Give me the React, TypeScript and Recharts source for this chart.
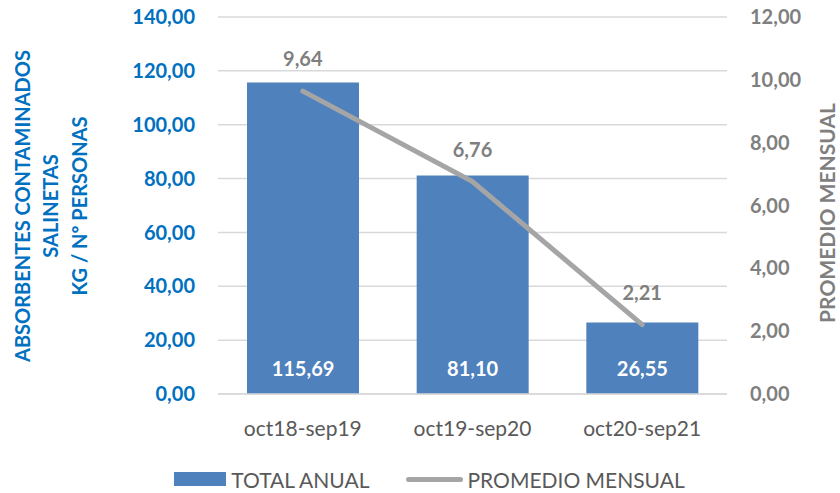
import { ComposedChart, Bar, Line, XAxis, YAxis, CartesianGrid, Legend, LabelList } from "recharts";

const categories = ["oct18-sep19", "oct19-sep20", "oct20-sep21"];
const totalAnual = [115.69, 81.1, 26.55];
const promedioMensual = [9.64, 6.76, 2.21];
const leftTicks = [0, 20, 40, 60, 80, 100, 120, 140];
const rightTicks = [0, 2, 4, 6, 8, 10, 12];
const leftTitle = ["ABSORBENTES CONTAMINADOS", "SALINETAS", "KG / Nº PERSONAS"];

const data = categories.map((name, i) => ({
  name,
  total: totalAnual[i],
  promedio: promedioMensual[i],
}));

const fmt = (v: number) => Number(v).toFixed(2).replace(".", ",");

const BLUE = "#4F81BD";
const GRAY_LINE = "#A5A5A5";
const GRAY_TEXT = "#7F7F7F";
const AXIS_BLUE = "#0070C0";

const LeftTitle = () => {
  const cy = 206;
  const xs = [22, 50, 79];
  return (
    <g>
      {leftTitle.map((t, i) => (
        <text
          key={t}
          x={xs[i]}
          y={cy}
          transform={`rotate(-90 ${xs[i]} ${cy})`}
          textAnchor="middle"
          dominantBaseline="central"
          fill={AXIS_BLUE}
          fontSize={20}
          fontWeight={700}
        >
          {t}
        </text>
      ))}
    </g>
  );
};

const RightTitle = () => {
  const cx = 826;
  const cy = 213;
  return (
    <text
      x={cx}
      y={cy}
      transform={`rotate(-90 ${cx} ${cy})`}
      textAnchor="middle"
      dominantBaseline="central"
      fill={GRAY_TEXT}
      fontSize={21}
      fontWeight={700}
    >
      PROMEDIO MENSUAL
    </text>
  );
};

const LegendContent = () => (
  <div
    style={{
      height: 54,
      display: "flex",
      alignItems: "center",
      justifyContent: "center",
      paddingLeft: 19,
      paddingTop: 26,
      boxSizing: "border-box",
      fontFamily: "Lato",
      fontSize: 21,
      color: "#595959",
    }}
  >
    <span style={{ width: 52, height: 14, background: BLUE, display: "inline-block", marginRight: 5 }} />
    <span style={{ marginRight: 37 }}>TOTAL ANUAL</span>
    <span
      style={{ width: 57, height: 5, borderRadius: 3, background: GRAY_LINE, display: "inline-block", marginRight: 4 }}
    />
    <span>PROMEDIO MENSUAL</span>
  </div>
);

export default function App() {
  return (
    <div style={{ position: "fixed", left: 0, top: 0, background: "#fff" }}>
      <ComposedChart
        width={840}
        height={493}
        data={data}
        margin={{ top: 17, right: 0, left: 0, bottom: 0 }}
        style={{ fontFamily: "Lato" }}
      >
        <CartesianGrid vertical={false} stroke="#D9D9D9" strokeWidth={1.5} yAxisId="left" />
        <XAxis
          dataKey="name"
          height={45}
          tickLine={false}
          tickSize={0}
          tickMargin={27}
          axisLine={{ stroke: "#D9D9D9", strokeWidth: 1.5 }}
          tick={{ fill: "#595959", fontSize: 21 }}
        />
        <YAxis
          yAxisId="left"
          width={218}
          domain={[0, 140]}
          ticks={leftTicks}
          tickFormatter={fmt}
          axisLine={false}
          tickLine={false}
          tickSize={0}
          tickMargin={23}
          tick={{ fill: AXIS_BLUE, fontSize: 20, fontWeight: 700 }}
          label={<LeftTitle />}
        />
        <YAxis
          yAxisId="right"
          orientation="right"
          width={113}
          domain={[0, 12]}
          ticks={rightTicks}
          tickFormatter={fmt}
          axisLine={false}
          tickLine={false}
          tickSize={0}
          tickMargin={23}
          tick={{ fill: GRAY_TEXT, fontSize: 20, fontWeight: 700 }}
          label={<RightTitle />}
        />
        <Legend verticalAlign="bottom" height={54} content={<LegendContent />} />
        <Bar yAxisId="left" dataKey="total" name="TOTAL ANUAL" fill={BLUE} barSize={112} isAnimationActive={false}>
          <LabelList
            dataKey="total"
            content={(p: any) => (
              <text
                x={p.x + p.width / 2}
                y={p.y + p.height - 26}
                textAnchor="middle"
                dominantBaseline="central"
                fill="#fff"
                fontSize={20}
                fontWeight={700}
              >
                {fmt(p.value)}
              </text>
            )}
          />
        </Bar>
        <Line
          yAxisId="right"
          dataKey="promedio"
          name="PROMEDIO MENSUAL"
          type="linear"
          stroke={GRAY_LINE}
          strokeWidth={5}
          strokeLinecap="round"
          dot={false}
          activeDot={false}
          isAnimationActive={false}
        >
          <LabelList
            dataKey="promedio"
            content={(p: any) => (
              <text
                x={p.x}
                y={p.y - 33}
                textAnchor="middle"
                dominantBaseline="central"
                fill={GRAY_TEXT}
                fontSize={20}
                fontWeight={700}
              >
                {fmt(p.value)}
              </text>
            )}
          />
        </Line>
      </ComposedChart>
    </div>
  );
}
